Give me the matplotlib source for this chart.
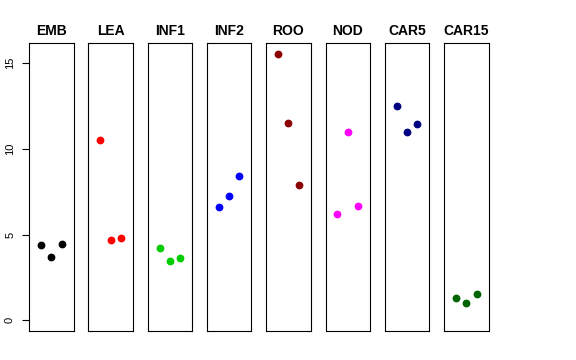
import matplotlib
matplotlib.use("Agg")
import matplotlib.pyplot as plt

plt.rcParams['font.family'] = ['Liberation Sans', 'DejaVu Sans']

# ── data ─────────────────────────────────────────────────────────────────────
tissues = ['EMB', 'LEA', 'INF1', 'INF2', 'ROO', 'NOD', 'CAR5', 'CAR15']
colors  = ['#000000', '#FF0000', '#00CD00', '#0000FF',
           '#8B0000', '#FF00FF', '#000080', '#006400']
reps    = [1, 2, 3]

emb   = [4.42, 3.70, 4.46]
lea   = [10.50, 4.71, 4.79]
inf1  = [4.21, 3.49, 3.64]
inf2  = [6.64, 7.24, 8.41]
roo   = [15.56, 11.49, 7.89]
nod   = [6.21, 11.00, 6.66]
car5  = [12.50, 11.00, 11.43]
car15 = [1.30, 1.03, 1.56]
values = [emb, lea, inf1, inf2, roo, nod, car5, car15]

y_ticks = [0, 5, 10, 15]

# ── figure ───────────────────────────────────────────────────────────────────
W, H = 576, 360
fig = plt.figure(figsize=(W / 100, H / 100), dpi=100)

left0, step, pw = 29, 59.3, 44.5
bottom, top = 331, 43

ymax = 15.56
pad_y = 0.04 * ymax
for i, (name, col, vals) in enumerate(zip(tissues, colors, values)):
    x0 = left0 + i * step
    ax = fig.add_axes([x0 / W, (H - bottom) / H, pw / W, (bottom - top) / H])
    ax.plot(reps, vals, 'o', color=col, ms=4.6, mec=col, ls='none')
    ax.set_xlim(-0.16, 4.16)
    ax.set_ylim(-pad_y, ymax + pad_y)
    ax.set_xticks([])
    for sp in ax.spines.values():
        sp.set_linewidth(0.8)
        sp.set_color('black')
    ax.set_title(name, fontsize=10, fontweight='bold', pad=6)
    if i == 0:
        ax.set_yticks(y_ticks)
        ax.set_yticklabels([str(t) for t in y_ticks], rotation=90,
                           va='center', fontsize=8)
        ax.tick_params(axis='y', length=5, width=0.8, pad=5)
    else:
        ax.set_yticks([])

fig.savefig('out.png', dpi=100)
plt.close()
